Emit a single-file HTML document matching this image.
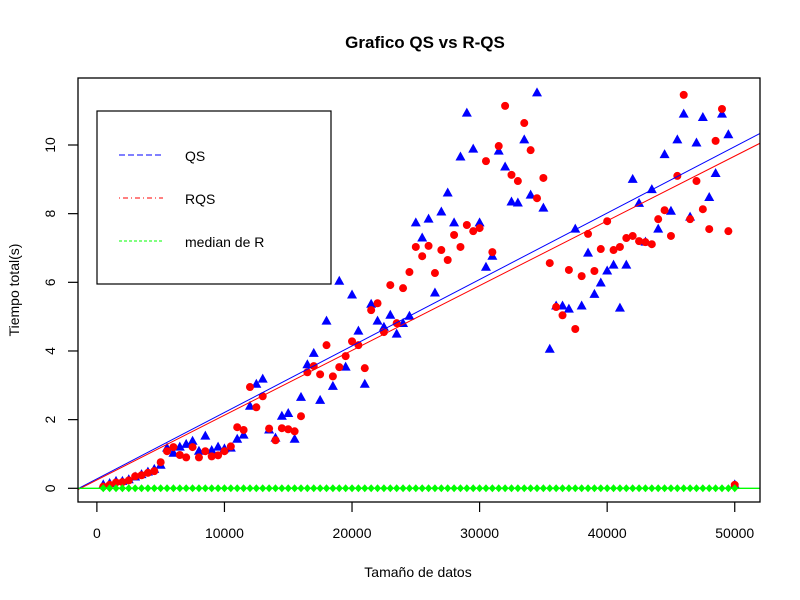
<!DOCTYPE html>
<html><head><meta charset="utf-8"><style>
html,body{margin:0;padding:0;background:#fff;}
svg{display:block;font-family:"Liberation Sans",Arial,sans-serif;}
</style></head><body>
<svg id="chart" width="800" height="600" viewBox="0 0 800 600">
<rect width="800" height="600" fill="#fff"/>
<text x="425" y="48" text-anchor="middle" font-size="17" font-weight="bold">Grafico QS vs R-QS</text>
<text x="418" y="577" text-anchor="middle" font-size="14">Tamaño de datos</text>
<text x="0" y="0" transform="translate(19,290) rotate(-90)" text-anchor="middle" font-size="14">Tiempo total(s)</text>
<g id="marks"></g>
<rect x="78" y="78" width="682" height="424" fill="none" stroke="#000" stroke-width="1.3"/>
<g>
<rect x="97" y="111" width="234" height="173" fill="#fff" stroke="#000" stroke-width="1.2"/>
<line x1="119" y1="155" x2="163" y2="155" stroke="#0000ff" stroke-dasharray="6,3"/>
<text x="185" y="161" font-size="14">QS</text>
<line x1="119" y1="198" x2="163" y2="198" stroke="#ff0000" stroke-dasharray="1,3,5,3"/>
<text x="185" y="204" font-size="14">RQS</text>
<line x1="119" y1="241" x2="163" y2="241" stroke="#00ff00" stroke-dasharray="3,2"/>
<text x="185" y="247" font-size="14">median de R</text>
</g>
</svg>
<script>
const qsValues=[0.1,0.14,0.2,0.2,0.25,0.33,0.4,0.47,0.55,0.67,
1.17,1.02,1.2,1.28,1.37,1.08,1.52,1.1,1.2,1.15,
1.17,1.43,1.55,2.39,3.03,3.18,1.7,1.46,2.1,2.18,
1.43,2.65,3.6,3.93,2.56,4.87,2.97,6.03,3.53,5.63,
4.58,3.03,5.36,4.87,4.69,5.04,4.49,4.8,5.01,7.73,
7.29,7.84,5.69,8.05,8.6,7.73,9.65,10.93,9.88,7.73,
6.44,6.76,9.82,9.36,8.34,8.31,10.15,8.54,11.52,8.16,
4.05,5.31,5.31,5.22,7.55,5.31,6.85,5.65,5.98,6.33,
6.5,5.25,6.5,9.0,8.3,7.17,8.7,7.55,9.72,8.07,
10.15,10.9,7.9,10.06,10.8,8.47,9.17,10.9,10.3,0.1];
const rqsValues=[0.05,0.1,0.17,0.18,0.23,0.35,0.38,0.45,0.5,0.76,
1.08,1.2,0.97,0.9,1.2,0.9,1.08,0.93,0.96,1.08,
1.22,1.78,1.7,2.95,2.36,2.68,1.74,1.4,1.75,1.72,
1.66,2.1,3.38,3.56,3.32,4.17,3.26,3.53,3.85,4.28,
4.17,3.5,5.19,5.39,4.55,5.92,4.81,5.83,6.3,7.03,
6.76,7.06,6.27,6.94,6.65,7.38,7.03,7.67,7.49,7.58,
9.53,6.88,9.97,11.14,9.13,8.95,10.64,9.85,8.45,9.04,
6.56,5.28,5.04,6.36,4.64,6.18,7.41,6.33,6.97,7.78,
6.94,7.03,7.29,7.35,7.2,7.17,7.11,7.84,8.1,7.35,
9.1,11.46,7.84,8.95,8.13,7.55,10.12,11.05,7.49,0.1];
const medianValues=new Array(100).fill(0);
const sizes=[];for(let i=1;i<=100;i++)sizes.push(i*500);
const xTicks=[0,10000,20000,30000,40000,50000];
const yTicks=[0,2,4,6,8,10];

const NS="http://www.w3.org/2000/svg";
const X0=78,X1=760,Y0=502,Y1=78;
const xMin=-1480,xMax=51980;
const yScaleZero=488.3,yPerUnit=34.33;
function sx(v){return X0+(v-xMin)/(xMax-xMin)*(X1-X0);}
function sy(v){return yScaleZero-v*yPerUnit;}
const svg=document.getElementById('chart');
const marks=document.getElementById('marks');
function mk(tag,attrs,parent){const e=document.createElementNS(NS,tag);for(const k in attrs)e.setAttribute(k,attrs[k]);(parent||svg).appendChild(e);return e;}

// axes
const xa=mk('g',{});


mk('line',{x1:sx(xTicks[0]),x2:sx(xTicks[xTicks.length-1]),y1:Y0,y2:Y0,stroke:'#000'},xa);
xTicks.forEach(t=>{
 const l=mk('line',{x1:sx(t),x2:sx(t),y1:Y0,y2:Y0+10,stroke:'#000','stroke-width':1.2},xa);
 
 
 const tx=mk('text',{x:sx(t),y:Y0+36,'text-anchor':'middle','font-size':14},xa);
 tx.textContent=t;
 
 
});
const ya=mk('g',{});


yTicks.forEach(t=>{
 const l=mk('line',{x1:X0-10,x2:X0,y1:sy(t),y2:sy(t),stroke:'#000','stroke-width':1.2},ya);
 
 
 const tx=mk('text',{x:0,y:0,transform:`translate(55,${sy(t)}) rotate(-90)`,'text-anchor':'middle','font-size':14},ya);
 tx.textContent=t;
 
 
});

function fit(ys){const n=ys.length;let mx=0,my=0;for(let i=0;i<n;i++){mx+=sizes[i];my+=ys[i];}mx/=n;my/=n;let sxy=0,sxx=0;for(let i=0;i<n;i++){sxy+=(sizes[i]-mx)*(ys[i]-my);sxx+=(sizes[i]-mx)**2;}const b=sxy/sxx;return [my-b*mx,b];}

const clip=mk('clipPath',{id:'pc'});mk('rect',{x:X0,y:Y1,width:X1-X0,height:Y0-Y1},clip);

// points
const gq=mk('g',{},marks);


qsValues.forEach((v,i)=>{
 const x=sx(sizes[i]),y=sy(v);
 const p=mk('polygon',{points:`${x},${y-5.5} ${x+5},${y+3.5} ${x-5},${y+3.5}`,fill:'#0000ff'},gq);
 
 
});
const gr=mk('g',{},marks);


rqsValues.forEach((v,i)=>{
 const c=mk('circle',{cx:sx(sizes[i]),cy:sy(v),r:4,fill:'#ff0000'},gr);
 
 
});
// regression lines
[[qsValues,'#0000ff','qs-trend-line'],[rqsValues,'#ff0000','rqs-trend-line']].forEach(([ys,col,nm])=>{
 const [a,b]=fit(ys);
 const l=mk('line',{x1:sx(xMin),y1:sy(a+b*xMin),x2:sx(xMax),y2:sy(a+b*xMax),stroke:col,'stroke-width':1,'clip-path':'url(#pc)'},marks);
 
 
});
// median
const gm=mk('g',{},marks);


const ml=mk('line',{x1:X0,x2:X1,y1:sy(0),y2:sy(0),stroke:'#00ff00','stroke-width':1.3},gm);


medianValues.forEach((v,i)=>{
 const x=sx(sizes[i]),y=sy(v);
 const d=mk('polygon',{points:`${x},${y-4} ${x+3.6},${y} ${x},${y+4} ${x-3.6},${y}`,fill:'#00ff00'},gm);
 
 
});
</script>
</body></html>
